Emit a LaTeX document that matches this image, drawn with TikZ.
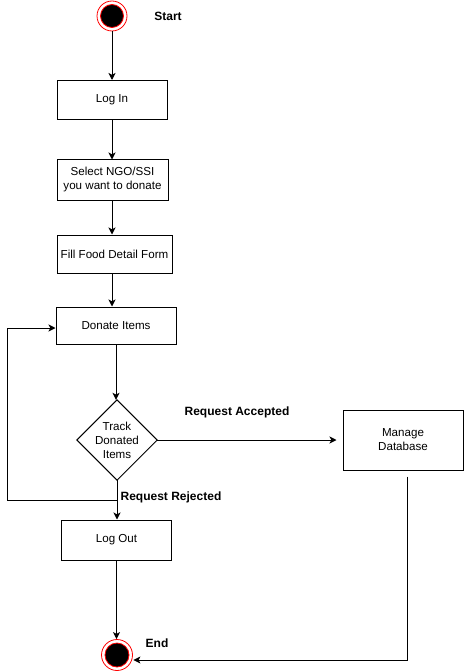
\documentclass[tikz,border=0pt]{standalone}
\usepackage{fontspec}
\setmainfont{Liberation Sans}
\usetikzlibrary{arrows.meta,calc}
\begin{document}
\begin{tikzpicture}[x=1pt,y=-1pt,
  font=\fontsize{11.6}{14}\selectfont,
  box/.style={draw=black,line width=1pt,fill=white,inner sep=0pt,align=center},
  lbl/.style={font=\fontsize{12}{14}\selectfont\bfseries,inner sep=0pt},
  conn/.style={line width=1pt,draw=black,-{Stealth[length=7pt,width=7pt,inset=1.8pt]}},
  plain/.style={line width=1pt,draw=black}]
\useasboundingbox[fill=white] (0,0) rectangle (464,671);

% start
\node[circle,draw=red,line width=0.8pt,fill=white,minimum size=30pt,inner sep=0pt] (start) at (112,16) {};
\node[circle,draw=red,line width=0.8pt,fill=black,minimum size=23pt,inner sep=0pt] at (112,16) {};
\node[lbl] (startlbl) at (168,16) {Start};

\node[box,minimum width=110pt,minimum height=39pt] (login) at (112,100) {Log In};
\node[box,minimum width=111pt,minimum height=40pt] (select) at (112.5,180) {Select NGO/SSI\\you want to donate};
\node[box,minimum width=115pt,minimum height=38pt] (fill) at (114.5,254) {Fill Food Detail Form};
\node[box,minimum width=120pt,minimum height=37pt] (donate) at (116,325.5) {Donate Items};

% decision
\node[minimum width=80pt,minimum height=80pt,inner sep=0pt] (dec) at (117,440) {};
\draw[line width=1pt,fill=white] (dec.north) -- (dec.east) -- (dec.south) -- (dec.west) -- cycle;
\node[align=center,inner sep=0pt] (dectxt) at (117,440) {Track\\Donated\\Items};

\node[box,minimum width=120pt,minimum height=60pt] (mdb) at (403,440) {Manage\\Database};
\node[box,minimum width=110pt,minimum height=40pt] (logout) at (116.5,540) {Log Out};

% end
\node[circle,draw=red,line width=0.8pt,fill=white,minimum size=31pt,inner sep=0pt] (end) at (117,655) {};
\node[circle,draw=red,line width=0.8pt,fill=black,minimum size=24pt,inner sep=0pt] at (117,655) {};
\node[lbl] (endlbl) at (157,643) {End};

\node[lbl] (acc) at (237,412) {Request Accepted};
\node[lbl] (rej) at (171,497) {Request Rejected};

% connectors
\draw[conn] (start.south) -- (login.north);
\draw[conn] (login.south) -- (login.south |- select.north);
\draw[conn] (login.south |- select.south) -- (login.south |- fill.north);
\draw[conn] (login.south |- fill.south) -- (login.south |- donate.north);
\draw[conn] (donate.south) -- (donate.south |- dec.north);
\draw[conn,shorten >=6pt] (dec.east) -- (mdb.west);
\draw[conn] (dec.south) -- (dec.south |- logout.north);
\coordinate (loopj) at (117,500);
\coordinate (loopc) at (7,328);
\draw[conn] (loopj) -| (loopc) -- (loopc -| donate.west);
\draw[conn] (logout.south) -- (logout.south |- end.north);
\draw[conn,shorten <=6pt] ([xshift=4.5pt]mdb.south) |- ([yshift=-5pt,xshift=0.5pt]end.east);
\end{tikzpicture}
\end{document}
